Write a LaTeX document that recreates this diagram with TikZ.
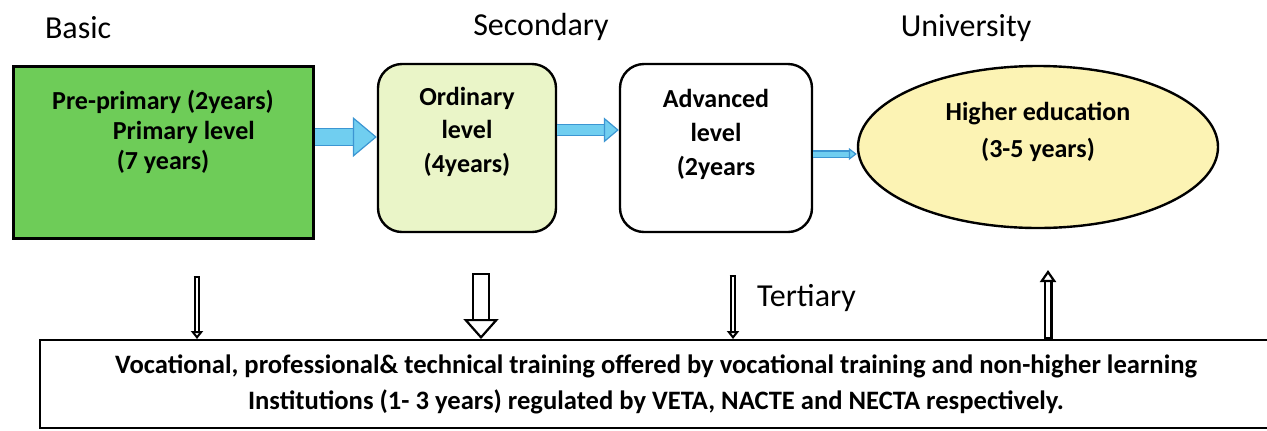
\documentclass[tikz,border=0pt]{standalone}
\usepackage{fontspec}
\setmainfont{Carlito}
\usetikzlibrary{positioning,shapes.geometric,arrows.meta,calc}

\definecolor{basicgreen}{RGB}{110,204,88}
\definecolor{ordfill}{RGB}{234,245,200}
\definecolor{unifill}{RGB}{252,243,180}
\definecolor{flowfill}{RGB}{112,206,240}
\definecolor{flowedge}{RGB}{60,150,210}

\tikzset{
  heading/.style={font=\fontsize{16}{19}\selectfont},
  boxtext/.style={align=center, font=\fontsize{13}{#1}\selectfont\bfseries},
  boxtext/.default=16,
  stage/.style={draw=black, line width=1.2pt, rounded corners=12pt,
    minimum width=#1},
  % light blue block arrow between the stages
  flow/.style n args={3}{draw=flowedge, line width=0.6pt, double=flowfill,
    double distance=#1,
    -{Triangle[length=#2, width=#3, fill=flowfill, line width=0.6pt]}},
  % white outlined arrow to and from the training box, closed at its tail
  hollow/.style n args={3}{draw=black, line width=1.1pt, double=white,
    double distance=#1,
    {Bar[width=#1+2.2pt, line width=1.1pt]}-{Triangle[length=#2, width=#3, fill=white, line width=1.1pt]}}
}

\begin{document}
\begin{tikzpicture}[x=0.5pt, y=-0.5pt]
	\useasboundingbox (0,0) rectangle (1267,430);

	% Levels
	\node[heading, anchor=west] (hbasic) at (38,28) {Basic};
	\node[heading] (hsec) at (541,27) {Secondary};
	\node[heading] (huni) at (966,28) {University};

	% Stages
	\node[draw=black, line width=1.5pt, fill=basicgreen,
		minimum width=150pt, minimum height=86pt] (basic) at (163,152) {};
	\node[boxtext=15] (basictxt) at ([xshift=0pt, yshift=10pt]basic.center)
		{Pre-primary (2years)\\ \hspace{1.6em}Primary level\\ (7 years)};

	\node[stage=89pt, fill=ordfill, minimum height=84pt] (ord) at (467,148) {};
	\node[boxtext=16.75] (ordtxt) at ([yshift=8.25pt]ord.center)
		{Ordinary\\ level\\ (4years)};

	\node[stage=96pt, fill=white, minimum height=84pt] (adv) at (716,148) {};
	\node[boxtext=17] (advtxt) at ([yshift=7pt]adv.center)
		{Advanced\\ level\\ (2years};

	\node[ellipse, draw=black, line width=1.2pt, fill=unifill,
		minimum width=180pt, minimum height=81pt, inner sep=0pt] (uni) at (1038,147) {};
	\node[boxtext=18.5] (unitxt) at ([yshift=7.75pt]uni.center)
		{Higher education\\ (3-5 years)};

	% Flow between stages
	\draw[flow={8pt}{12pt}{20pt}] ([yshift=7.5pt]basic.east) -- ([yshift=7.5pt]basic.east -| ord.west);
	\draw[flow={5pt}{7.5pt}{12.5pt}] ([yshift=9pt]ord.east) -- ([yshift=9pt]ord.east -| adv.west);
	\draw[flow={2.5pt}{4pt}{6pt}] ([yshift=-3pt]adv.east) -- ([yshift=-3pt]adv.east -| uni.west);

	% Training
	\node[draw=black, line width=1pt, minimum width=616pt, minimum height=44pt,
		align=center, font=\fontsize{13.3}{18}\selectfont\bfseries] (voc) at (656,384)
		{Vocational, professional\& technical training offered by vocational training and non-higher learning\\
		Institutions (1- 3 years) regulated by VETA, NACTE and NECTA respectively.};

	\node[heading, anchor=west] (tert) at (750,298) {Tertiary};

	\coordinate (t1) at (197,276);
	\coordinate (t2) at (481,273);
	\coordinate (t3) at (733,275);
	\coordinate (t4) at (1048,270);
	\draw[hollow={1.2pt}{4pt}{6pt}] (t1) -- (t1 |- voc.north);
	\draw[hollow={6.8pt}{10pt}{17.5pt}] (t2) -- (t2 |- voc.north);
	\draw[hollow={1.2pt}{4pt}{6pt}] (t3) -- (t3 |- voc.north);
	\draw[hollow={2.3pt}{6pt}{8pt}] (t4 |- voc.north) -- (t4);
\end{tikzpicture}
\end{document}
